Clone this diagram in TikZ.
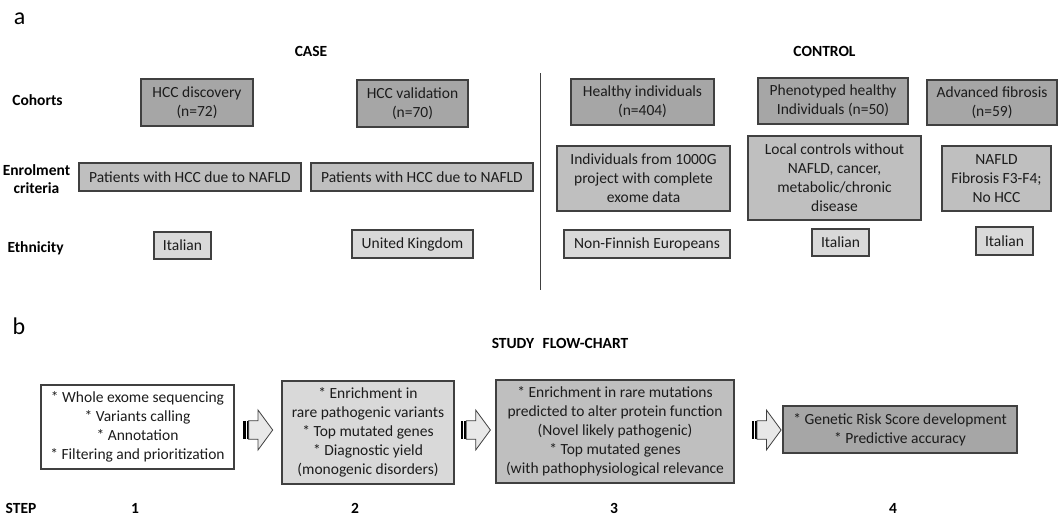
\documentclass[tikz,border=0pt]{standalone}
\usepackage{fontspec}
\setmainfont{Carlito}
\definecolor{cdark}{RGB}{166,166,166}
\definecolor{cmid}{RGB}{191,191,191}
\definecolor{clight}{RGB}{217,217,217}
\definecolor{carrow}{RGB}{232,232,232}
\definecolor{bord}{RGB}{64,64,64}
\definecolor{txt}{RGB}{28,28,28}
\begin{document}
\begin{tikzpicture}[x=1pt,y=-1pt,
  every node/.style={font=\fontsize{15.5}{19}\selectfont, text=txt},
  box/.style={draw=bord, line width=1.1pt, inner sep=0pt, align=center},
  dark/.style={box, fill=cdark},
  mid/.style={box, fill=cmid},
  light/.style={box, fill=clight},
  white/.style={box, fill=white},
  lab/.style={font=\fontsize{15.5}{18}\selectfont\bfseries, text=black, anchor=base, inner sep=0pt},
  big/.style={font=\fontsize{24}{26}\selectfont, text=black, anchor=base, inner sep=0pt},
  blockarrow/.pic={
    \fill[black] (0,-9.3) rectangle (2.3,9.3);
    \fill[black] (3.2,-9.3) rectangle (4.8,9.3);
    \draw[draw=bord, fill=carrow, line width=0.8pt, line join=miter]
      (5.3,-9.3) -- (14.7,-9.3) -- (14.7,-20) -- (29.4,0) -- (14.7,20) -- (14.7,9.3) -- (5.3,9.3) -- cycle;
  }
]
\useasboundingbox (0,0) rectangle (1062,517);

% ---------- panel a ----------
\node[big] (pa) at (19.7,24) {a};
\node[lab] (case) at (311,56) {CASE};
\node[lab] (control) at (824.5,56) {CONTROL};

\node[lab] (lcoh) at (37.5,105) {Cohorts};
\node[lab] (lenr1) at (36.5,175) {Enrolment};
\node[lab] (lenr2) at (36.5,193) {criteria};
\node[lab] (leth) at (35.6,252) {Ethnicity};

% cohorts
\node[dark, minimum width=112pt, minimum height=47pt] (hccd) at (197,102.5) {HCC discovery\\(n=72)};
\node[dark, minimum width=111pt, minimum height=47pt] (hccv) at (412.5,103.5) {HCC validation\\(n=70)};
\node[dark, minimum width=143pt, minimum height=46pt] (healthy) at (642.5,102) {Healthy individuals\\(n=404)};
\node[dark, minimum width=150pt, minimum height=46pt] (pheno) at (833,101) {Phenotyped healthy\\Individuals (n=50)};
\node[dark, minimum width=130pt, minimum height=45pt] (advf) at (992,102.5) {Advanced fibrosis\\(n=59)};

% enrolment criteria
\node[mid, minimum width=222pt, minimum height=28pt] (pat1) at (190,177) {Patients with HCC due to NAFLD};
\node[mid, minimum width=222pt, minimum height=28pt] (pat2) at (422,177) {Patients with HCC due to NAFLD};
\node[mid, minimum width=173pt, minimum height=65pt] (g1000) at (643.5,178.5) {Individuals from 1000G\\project with complete\\exome data};
\node[mid, minimum width=173pt, minimum height=84pt] (local) at (834.5,178) {Local controls without\\NAFLD, cancer,\\metabolic/chronic\\disease};
\node[mid, minimum width=109pt, minimum height=65pt] (nafld) at (996.5,178.5) {NAFLD\\Fibrosis F3-F4;\\No HCC};

% ethnicity
\node[light, minimum width=57pt, minimum height=27pt] (it1) at (182.5,245.5) {Italian};
\node[light, minimum width=121pt, minimum height=28pt] (uk) at (412.5,244) {United Kingdom};
\node[light, minimum width=166pt, minimum height=28pt] (nonf) at (647,244) {Non-Finnish Europeans};
\node[light, minimum width=57pt, minimum height=27pt] (it2) at (840.5,242.5) {Italian};
\node[light, minimum width=57pt, minimum height=28pt] (it3) at (1004.5,241) {Italian};

% divider
\coordinate (dtop) at (540.5,73);
\coordinate (dbot) at (540.5,290);
\draw[draw=bord, line width=1.2pt] (dtop) -- (dbot);

% ---------- panel b ----------
\node[big] (pb) at (19,334) {b};
\node[lab, anchor=center] (flow) at (560,343) {STUDY\hspace{0.55em}FLOW-CHART};

\node[white, minimum width=193pt, minimum height=84pt] (s1) at (137.5,427)
  {* Whole exome sequencing\\* Variants calling\\* Annotation\\* Filtering and prioritization};
\node[light, minimum width=172pt, minimum height=103pt] (s2) at (368,432.5)
  {* Enrichment in\\rare pathogenic variants\\* Top mutated genes\\* Diagnostic yield\\(monogenic disorders)};
\node[mid, minimum width=238pt, minimum height=103pt] (s3) at (615,431.5)
  {* Enrichment in rare mutations\\predicted to alter protein function\\(Novel likely pathogenic)\\* Top mutated genes\\(with pathophysiological relevance};
\node[dark, minimum width=234pt, minimum height=47pt] (s4) at (900,429.5)
  {* Genetic Risk Score development\\* Predictive accuracy};

\coordinate (ar1) at (243.3,430);
\coordinate (ar2) at (461,430);
\coordinate (ar3) at (751.7,430);
\pic at (ar1) {blockarrow};
\pic at (ar2) {blockarrow};
\pic at (ar3) {blockarrow};

\node[lab] (step) at (21,513) {STEP};
\node[lab] (n1) at (135,513) {1};
\node[lab] (n2) at (355,513) {2};
\node[lab] (n3) at (614,513) {3};
\node[lab] (n4) at (893,513) {4};
\end{tikzpicture}
\end{document}
